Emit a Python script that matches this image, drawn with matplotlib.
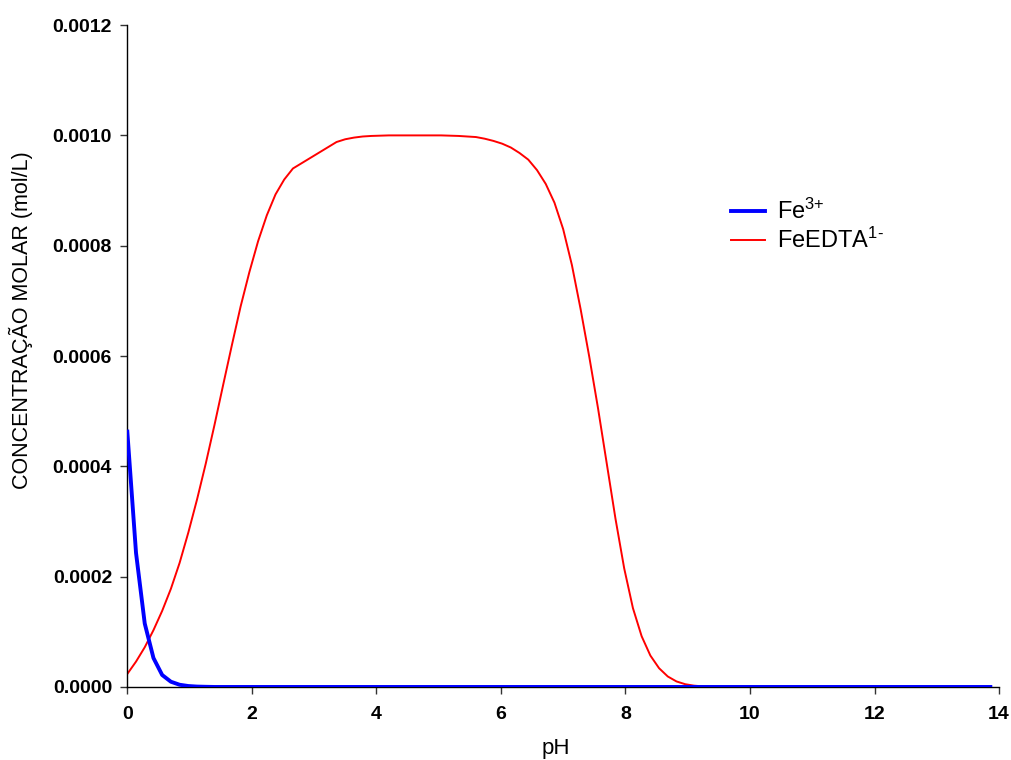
import matplotlib
matplotlib.use("Agg")
import matplotlib.pyplot as plt
from matplotlib.ticker import FormatStrFormatter

plt.rcParams["font.family"] = ["Liberation Sans", "DejaVu Sans"]
plt.rcParams["mathtext.fontset"] = "custom"
plt.rcParams["mathtext.rm"] = "Liberation Sans"
plt.rcParams["mathtext.it"] = "Liberation Sans:italic"
plt.rcParams["mathtext.bf"] = "Liberation Sans:bold"

# Fe3+ concentration vs pH (flat at zero after pH ~1.4)
ph_fe = [0.00, 0.14, 0.28, 0.42, 0.56, 0.70, 0.84, 0.98, 1.12, 1.26, 1.40, 13.86]
fe3 = [0.000463, 0.000243, 0.000115, 0.0000525, 0.0000217, 0.0000095,
       0.000004, 0.0000017, 0.0000007, 0.0000003, 0.0, 0.0]

# FeEDTA1- concentration vs pH
ph_edta = [0.00, 0.14, 0.28, 0.42, 0.56, 0.70, 0.84, 0.98, 1.12, 1.26,
           1.40, 1.54, 1.68, 1.82, 1.96, 2.10, 2.24, 2.38, 2.52, 2.66,
           3.36, 3.50, 3.64, 3.78, 3.92, 4.20, 4.62, 5.04, 5.32, 5.46,
           5.60, 5.74, 5.88, 6.02, 6.16, 6.30, 6.44, 6.58, 6.72, 6.86,
           7.00, 7.14, 7.28, 7.42, 7.56, 7.70, 7.84, 7.98, 8.12, 8.26,
           8.40, 8.54, 8.68, 8.82, 8.96, 9.10, 9.24, 9.38, 9.52, 13.86]
feedta = [0.0000236, 0.000046, 0.000072, 0.000103, 0.000138, 0.000178,
          0.000225, 0.000280, 0.000340, 0.000405, 0.000475, 0.000548,
          0.000620, 0.000690, 0.000752, 0.000808, 0.000855, 0.000893,
          0.000920, 0.000940, 0.000988, 0.000993, 0.000996, 0.000998,
          0.000999, 0.001000, 0.001000, 0.001000, 0.000999, 0.000998,
          0.000997, 0.000994, 0.000990, 0.000985, 0.000978, 0.000968,
          0.000956, 0.000937, 0.000912, 0.000878, 0.000830, 0.000765,
          0.000685, 0.000598, 0.000505, 0.000405, 0.000305, 0.000215,
          0.000143, 0.000092, 0.000057, 0.000034, 0.000019, 0.000010,
          0.000005, 0.0000024, 0.0000011, 0.0000005, 0.0, 0.0]

x_ticks = [0, 2, 4, 6, 8, 10, 12, 14]
y_ticks = [0.0, 0.0002, 0.0004, 0.0006, 0.0008, 0.0010, 0.0012]

fig = plt.figure(figsize=(10.12, 7.6), dpi=100)
ax = fig.add_axes([0.1258, 0.0961, 0.8614, 0.8709])

ax.plot(ph_edta, feedta, color="#FF0000", linewidth=1.4, zorder=2,
        label=r"FeEDTA$^{\text{1-}}$")
ax.plot(ph_fe, fe3, color="#0000FF", linewidth=2.8, zorder=3,
        label=r"Fe$^{\text{3+}}$")

ax.set_xlim(0, 14)
ax.set_ylim(0, 0.0012)
ax.set_xticks(x_ticks)
ax.set_yticks(y_ticks)
ax.yaxis.set_major_formatter(FormatStrFormatter("%.4f"))

for side in ["top", "right"]:
    ax.spines[side].set_visible(False)
for side in ["left", "bottom"]:
    ax.spines[side].set_linewidth(1.0)
    ax.spines[side].set_color("black")

ax.tick_params(axis="both", direction="out", length=5, width=1.0,
               color="#333333", labelsize=14)
ax.tick_params(axis="x", pad=9)
ax.tick_params(axis="y", pad=6)
for lbl in ax.get_xticklabels() + ax.get_yticklabels():
    lbl.set_fontweight("bold")

ax.set_xlabel("pH", fontsize=16)
ax.set_ylabel("CONCENTRAÇÃO MOLAR (mol/L)", fontsize=15.5)
ax.xaxis.set_label_coords(0.492, -0.077)
ax.yaxis.set_label_coords(-0.108, 0.554)

handles, labels = ax.get_legend_handles_labels()
ax.legend(handles[::-1], labels[::-1], loc="upper left",
          bbox_to_anchor=(731 / 1012, 1 - 199 / 760),
          bbox_transform=fig.transFigure, frameon=False, fontsize=17,
          borderpad=0, borderaxespad=0, handlelength=1.45,
          handletextpad=0.5, labelspacing=0.15)

fig.savefig("out.png", dpi=100)
